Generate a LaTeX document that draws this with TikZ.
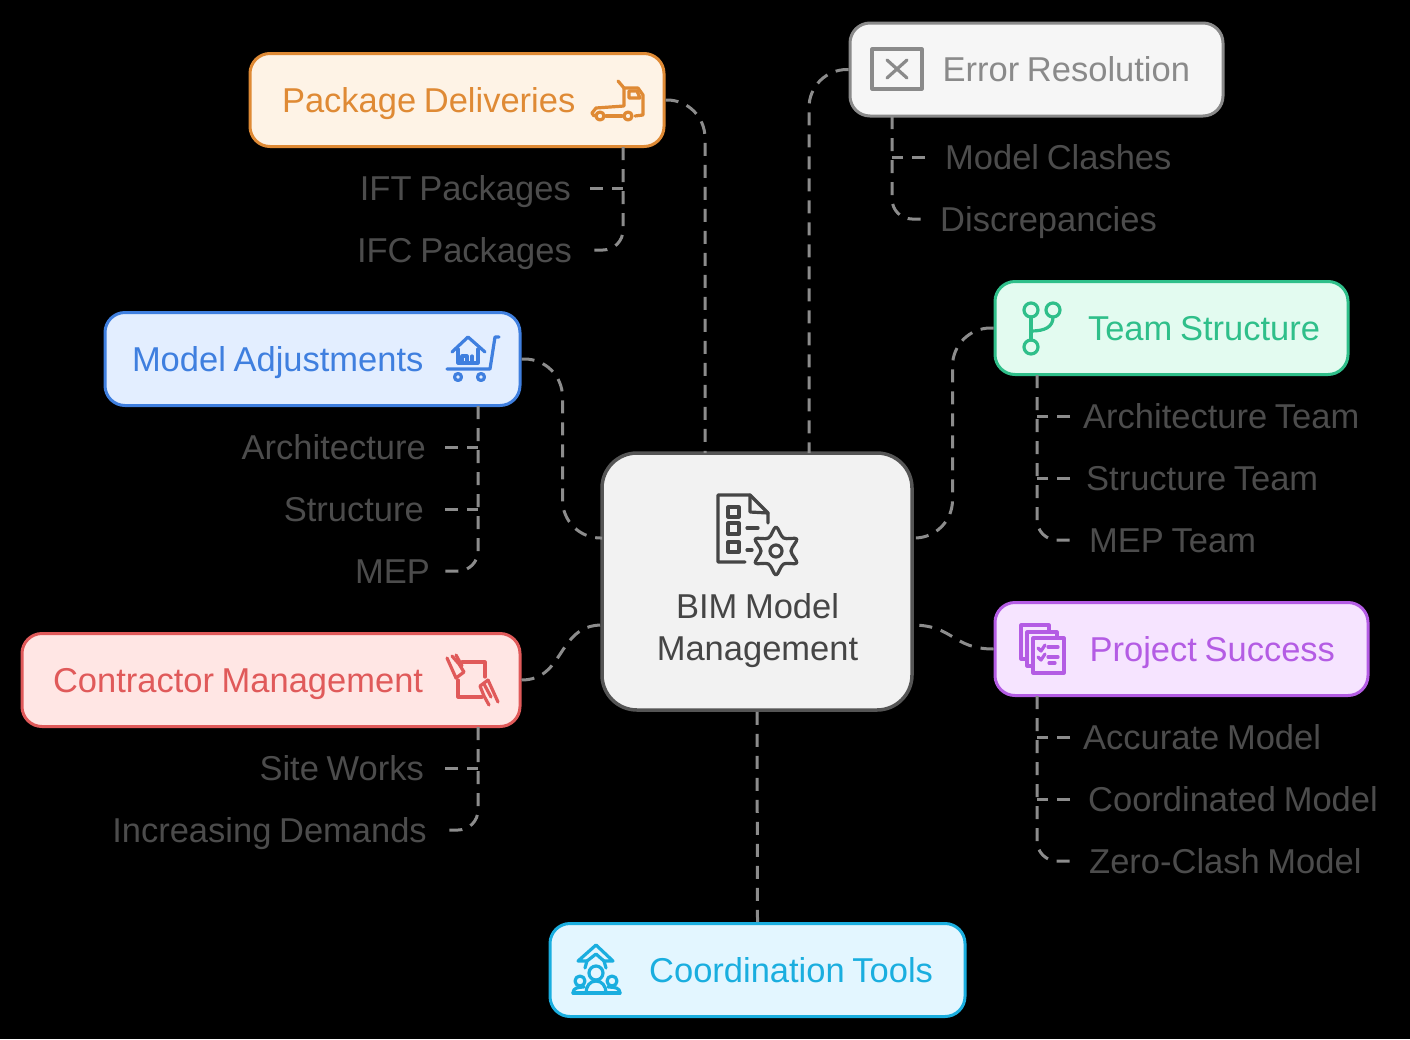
\documentclass[tikz,border=0pt]{standalone}
\usepackage{fontspec}
\setmainfont[WordSpace=0.8]{Liberation Sans}
\definecolor{orangeline}{HTML}{DF8A35}
\definecolor{orangefill}{HTML}{FEF3E6}
\definecolor{greyline}{HTML}{8A8A8A}
\definecolor{greyfill}{HTML}{F6F6F6}
\definecolor{greenline}{HTML}{2FBF8A}
\definecolor{greenfill}{HTML}{E3FBF0}
\definecolor{blueline}{HTML}{3F7FDF}
\definecolor{bluefill}{HTML}{E3EEFF}
\definecolor{redline}{HTML}{E05A5A}
\definecolor{redfill}{HTML}{FFE6E4}
\definecolor{purpleline}{HTML}{B45CE4}
\definecolor{purplefill}{HTML}{F6E4FF}
\definecolor{cyanline}{HTML}{1AAEDF}
\definecolor{cyanfill}{HTML}{E3F6FF}
\definecolor{mainline}{HTML}{555555}
\definecolor{mainfill}{HTML}{F2F2F2}
\definecolor{maintext}{HTML}{454545}
\definecolor{subtext}{HTML}{4C4C4C}
\definecolor{dashline}{HTML}{8C8C8C}
\tikzset{
	catbox/.style={draw=#1line, fill=#1fill, text=#1line, line width=3pt, rounded corners=20pt, inner xsep=0pt, minimum height=93pt, font=\fontsize{34.5}{42}\selectfont, text height=30pt, text depth=6pt},
	sublabel/.style={text=subtext, font=\fontsize{34.5}{42}\selectfont, text height=30pt, text depth=6pt, inner ysep=0pt},
	linkline/.style={draw=dashline, line width=3pt, dash pattern=on 13pt off 9pt},
	icon/.style={draw=#1, line width=3.2pt, line join=round, line cap=round}
}
\begin{document}
\begin{tikzpicture}[x=1pt,y=-1pt]
	\fill[black] (0,0) rectangle (1410,1039);
	\useasboundingbox (0,0) rectangle (1410,1039);

	\coordinate (maintopleft) at (705,453);
	\coordinate (maintopright) at (809,453);
	\coordinate (mainleftup) at (602,538);
	\coordinate (mainleftdown) at (602,625);
	\coordinate (mainrightup) at (912,538);
	\coordinate (mainrightdown) at (912,625);

	\node[catbox=orange, minimum width=414pt, text width=350pt, align=flush left] (delivery) at (457,100) {Package Deliveries};
	\node[catbox=grey, minimum width=373pt, text width=307pt, align=flush right] (error) at (1036.5,69.5) {Error Resolution};
	\node[catbox=green, minimum width=353pt, text width=297pt, align=flush right] (team) at (1171.5,328) {Team Structure};
	\node[catbox=blue, minimum width=415pt, text width=361pt, align=flush left] (adjust) at (312.5,359) {Model Adjustments};
	\node[catbox=red, minimum width=498pt, text width=436pt, align=flush left] (contractor) at (271,680) {Contractor Management};
	\node[catbox=purple, minimum width=373pt, text width=307pt, align=flush right] (success) at (1181.5,649) {Project Success};
	\node[catbox=cyan, minimum width=415pt, text width=351pt, align=flush right] (tools) at (757.5,970) {Coordination Tools};
	\node[draw=mainline, fill=mainfill, line width=3.5pt, rounded corners=35pt, minimum width=310pt, minimum height=257pt] (main) at (757,581.5) {};
	\node[text=maintext, font=\fontsize{34.5}{42}\selectfont, align=center] (maintitle) at (757.5,631) {BIM Model\\Management};

	\node[sublabel, anchor=east, inner xsep=19pt] (ift) at (590,188) {IFT Packages};
	\node[sublabel, anchor=east, inner xsep=18pt] (ifc) at (590,250) {IFC Packages};
	\node[sublabel, anchor=west, inner xsep=20pt] (clashes) at (925,157) {Model Clashes};
	\node[sublabel, anchor=west, inner xsep=15pt] (discrepancies) at (925,219) {Discrepancies};
	\node[sublabel, anchor=west, inner xsep=13pt] (archteam) at (1070,416) {Architecture Team};
	\node[sublabel, anchor=west, inner xsep=16pt] (structteam) at (1070,478) {Structure Team};
	\node[sublabel, anchor=west, inner xsep=19pt] (mepteam) at (1070,540) {MEP Team};
	\node[sublabel, anchor=east, inner xsep=19pt] (arch) at (445,447) {Architecture};
	\node[sublabel, anchor=east, inner xsep=21pt] (struct) at (445,509) {Structure};
	\node[sublabel, anchor=east, inner xsep=15pt] (mep) at (445,571) {MEP};
	\node[sublabel, anchor=east, inner xsep=21pt] (site) at (445,768) {Site Works};
	\node[sublabel, anchor=east, inner xsep=18pt] (demands) at (445,830) {Increasing Demands};
	\node[sublabel, anchor=west, inner xsep=13pt] (accurate) at (1070,737) {Accurate Model};
	\node[sublabel, anchor=west, inner xsep=18pt] (coordinated) at (1070,799) {Coordinated Model};
	\node[sublabel, anchor=west, inner xsep=19pt] (zeroclash) at (1070,861) {Zero-Clash Model};

	\coordinate (deliverydrop) at (623,147);
	\coordinate (errordrop) at (892,116);
	\coordinate (teamdrop) at (1037,375);
	\coordinate (adjustdrop) at (478,406);
	\coordinate (contractordrop) at (478,727);
	\coordinate (successdrop) at (1037,696);

	\draw[linkline, rounded corners=38pt] (delivery.east) -| (maintopleft);
	\draw[linkline, rounded corners=38pt] (error.west) -| (maintopright);
	\draw[linkline, rounded corners=38pt] (team.west) -- ++(-41,0) |- (mainrightup);
	\draw[linkline, rounded corners=38pt] (adjust.east) -- ++(41,0) |- (mainleftup);
	\draw[linkline] (contractor.east) .. controls (565,680) and (557,625) .. (mainleftdown);
	\draw[linkline] (success.west) .. controls (952,649) and (954,625) .. (mainrightdown);
	\draw[linkline] (main.south) -- (tools.north);

	\draw[linkline] (ift.east) -- (ift.east -| deliverydrop);
	\draw[linkline, rounded corners=20pt] (deliverydrop) |- (ifc.east);
	\draw[linkline] (clashes.west) -- (clashes.west -| errordrop);
	\draw[linkline, rounded corners=20pt] (errordrop) |- (discrepancies.west);
	\draw[linkline] (archteam.west) -- (archteam.west -| teamdrop);
	\draw[linkline] (structteam.west) -- (structteam.west -| teamdrop);
	\draw[linkline, rounded corners=20pt] (teamdrop) |- (mepteam.west);
	\draw[linkline] (arch.east) -- (arch.east -| adjustdrop);
	\draw[linkline] (struct.east) -- (struct.east -| adjustdrop);
	\draw[linkline, rounded corners=20pt] (adjustdrop) |- (mep.east);
	\draw[linkline] (site.east) -- (site.east -| contractordrop);
	\draw[linkline, rounded corners=20pt] (contractordrop) |- (demands.east);
	\draw[linkline] (accurate.west) -- (accurate.west -| successdrop);
	\draw[linkline] (coordinated.west) -- (coordinated.west -| successdrop);
	\draw[linkline, rounded corners=20pt] (successdrop) |- (zeroclash.west);

	% truck
	\draw[icon=orangeline] (618,81) -- (624,88) -- (638,88) -- (643,95) -- (643,115) -- (635,116);
	\draw[icon=orangeline] (624,88) -- (624,106) -- (596,108) -- (592,113) -- (594,116);
	\draw[icon=orangeline] (629,91) -- (637,91) -- (640,98) -- (629,98) -- cycle;
	\draw[icon=orangeline] (606,116) -- (622,116);
	\draw[icon=orangeline] (600,116) circle(4);
	\draw[icon=orangeline] (628,116) circle(4);

	% error box
	\draw[icon=greyline] (872,49) rectangle (922,89);
	\draw[icon=greyline] (887,60) -- (907,78);
	\draw[icon=greyline] (907,60) -- (887,78);

	% branches
	\draw[icon=greenline] (1031,310) circle(7);
	\draw[icon=greenline] (1053,310) circle(7);
	\draw[icon=greenline] (1031,347) circle(7);
	\draw[icon=greenline] (1031,317) -- (1031,340);
	\draw[icon=greenline] (1053,317) .. controls (1053,327) and (1045,331) .. (1031,331);

	% cart with house
	\draw[icon=blueline] (452,352) -- (468,337) -- (485,352);
	\draw[icon=blueline] (458,349) -- (458,363) -- (478,363) -- (478,349);
	\draw[icon=blueline] (462,356) -- (462,363) -- (467,363) -- (467,356) -- cycle;
	\draw[icon=blueline] (472,356) -- (472,363);
	\draw[icon=blueline] (447,369) -- (490,369) -- (495,337) -- (499,337);
	\draw[icon=blueline] (458,377) circle(3.5);
	\draw[icon=blueline] (481,377) circle(3.5);

	% square with hands
	\draw[icon=redline] (462,662) -- (485,662) -- (485,677);
	\draw[icon=redline] (458,680) -- (458,697) -- (482,697);
	\draw[icon=redline] (447,658) -- (456,678) -- (464,672) -- (459,664) -- (452,656);
	\draw[icon=redline] (456,655) -- (462,666);
	\draw[icon=redline] (488,680) -- (498,702);
	\draw[icon=redline] (488,680) -- (480,686) -- (484,696) -- (489,705);
	\draw[icon=redline] (484,684) -- (491,697);

	% sheets with checks
	\draw[icon=purpleline] (1033,638) rectangle (1064,673);
	\draw[icon=purpleline] (1033,666) -- (1027,666) -- (1027,632) -- (1057,632) -- (1057,638);
	\draw[icon=purpleline] (1027,659) -- (1021,659) -- (1021,625) -- (1049,625) -- (1049,632);
	\draw[icon=purpleline] (1038,648) -- (1041,651) -- (1045,645);
	\draw[icon=purpleline] (1038,657) -- (1041,660) -- (1045,654);
	\draw[icon=purpleline] (1048,647) -- (1058,647);
	\draw[icon=purpleline] (1048,657) -- (1058,657);
	\draw[icon=purpleline] (1049,663) -- (1055,663);

	% people with arrow
	\draw[icon=cyanline] (585,968) -- (587,961) -- (578,961) -- (596,945) -- (613,961) -- (604,961) -- (606,968);
	\draw[icon=cyanline] (587,961) -- (596,954) -- (604,961);
	\draw[icon=cyanline] (596,973) circle(7);
	\draw[icon=cyanline] (580,981) circle(5);
	\draw[icon=cyanline] (612,981) circle(5);
	\draw[icon=cyanline] (573,993) -- (620,993);
	\draw[icon=cyanline] (573,993) .. controls (573,988) and (578,987) .. (584,987);
	\draw[icon=cyanline] (620,993) .. controls (620,988) and (615,987) .. (608,987);
	\draw[icon=cyanline] (586,993) .. controls (586,986) and (590,981) .. (596,981) .. controls (602,981) and (606,986) .. (606,993);

	% document with gear
	\draw[icon=maintext] (768,523) -- (768,513) -- (750,495) -- (718,495) -- (718,562) -- (745,562);
	\draw[icon=maintext] (750,495) -- (750,512) -- (768,513);
	\draw[icon=maintext] (728,507) rectangle (739,517);
	\draw[icon=maintext] (728,523) rectangle (739,534);
	\draw[icon=maintext] (728,542) rectangle (739,552);
	\draw[icon=maintext] (747,528) -- (758,528);
	\draw[icon=maintext] (747,550) -- (752,550);
	\draw[icon=maintext] (776,551) circle(6);
	\draw[icon=maintext, shift={(776,551)}] plot[smooth cycle, tension=.55] coordinates {(90:24) (60:15) (30:24) (0:15) (-30:24) (-60:15) (-90:24) (-120:15) (-150:24) (180:15) (150:24) (120:15)};
\end{tikzpicture}
\end{document}
